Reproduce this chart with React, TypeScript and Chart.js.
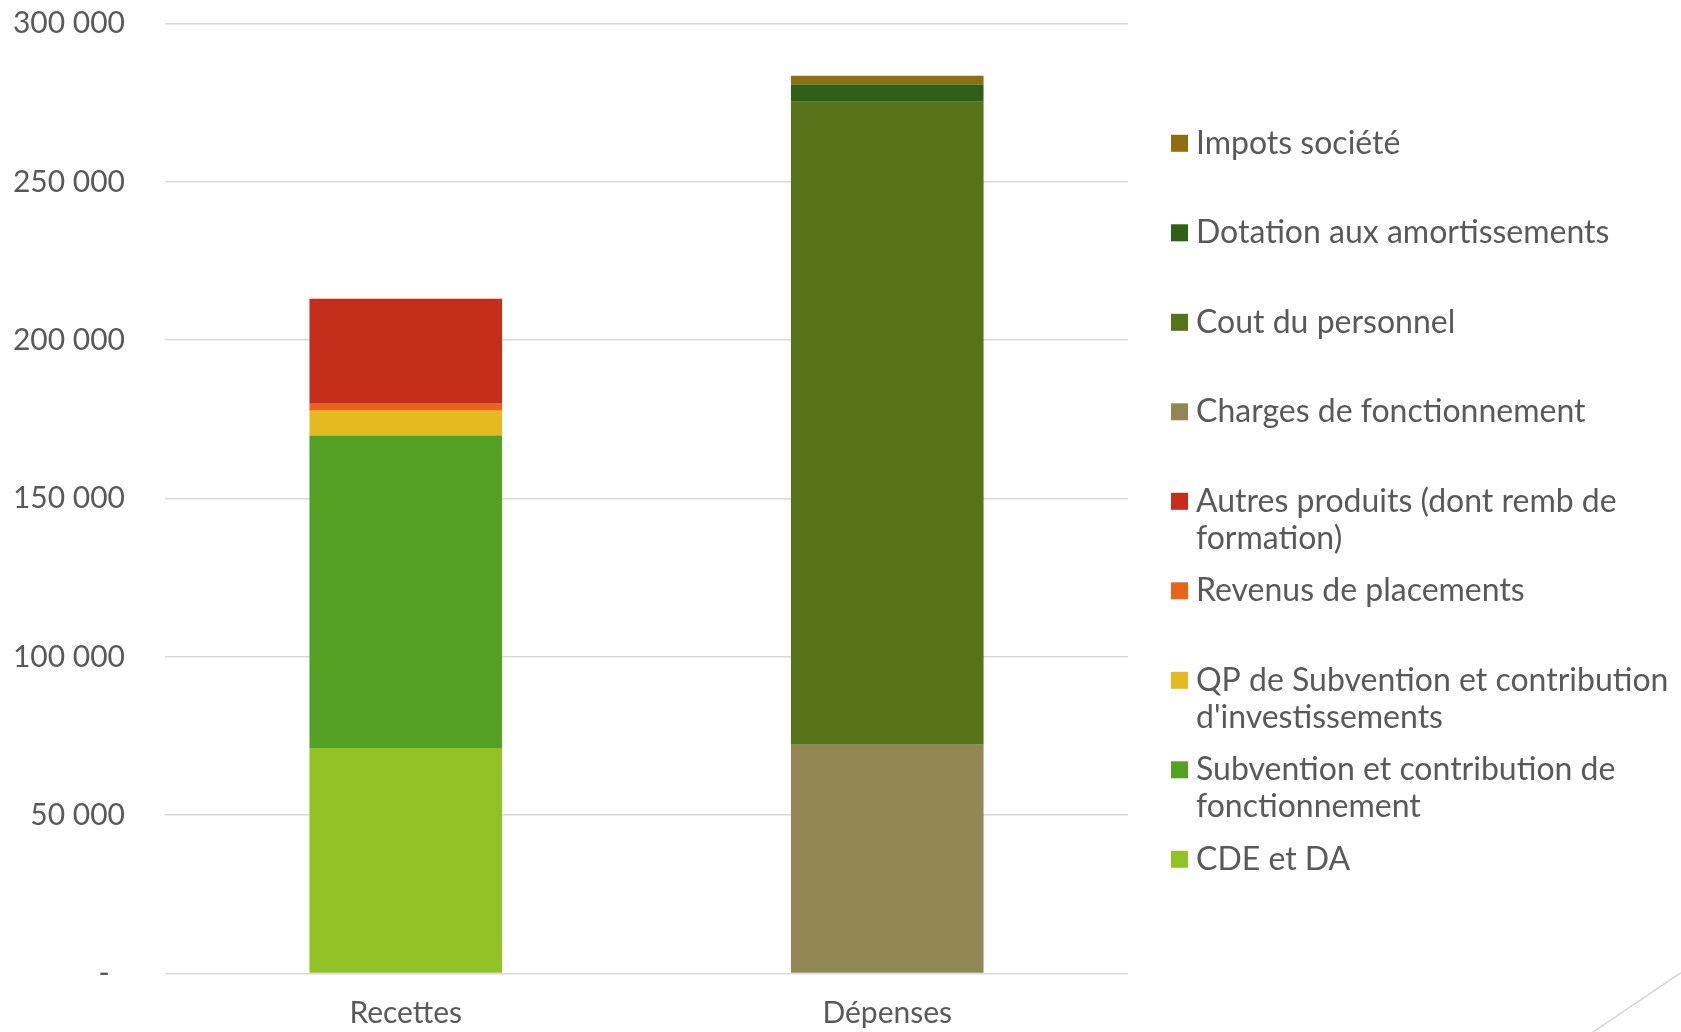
import React, { useEffect, useRef } from "react";
import { Chart, registerables } from "chart.js";

Chart.register(...registerables);

// ---- data ----
const categories = ["Recettes", "Dépenses"];

const seriesNames = [
  "CDE et DA",
  "Subvention et contribution de\nfonctionnement",
  "QP de Subvention et contribution\nd'investissements",
  "Revenus de placements",
  "Autres produits (dont remb de\nformation)",
  "Charges de fonctionnement",
  "Cout du personnel",
  "Dotation aux amortissements",
  "Impots société",
];

const cdeEtDa = [71200, null];
const subventionFonctionnement = [98700, null];
const qpSubventionInvest = [7800, null];
const revenusPlacements = [2200, null];
const autresProduits = [33200, null];
const chargesFonctionnement = [null, 72200];
const coutPersonnel = [null, 203100];
const dotationAmortissements = [null, 5400];
const impotsSociete = [null, 2800];

const seriesValues = [
  cdeEtDa,
  subventionFonctionnement,
  qpSubventionInvest,
  revenusPlacements,
  autresProduits,
  chargesFonctionnement,
  coutPersonnel,
  dotationAmortissements,
  impotsSociete,
];

const seriesColors = [
  "#91C226",
  "#54A022",
  "#E5BA1F",
  "#E7641A",
  "#C42E1A",
  "#918755",
  "#57731A",
  "#305F17",
  "#8E6E10",
];

const yMin = 0;
const yMax = 300000;
const yStep = 50000;

// ---- styles ----
const TEXT_COLOR = "#595959";
const FONT = "Lato";

const formatTick = (v: number) =>
  v === 0 ? "-  " : String(v).replace(/\B(?=(\d{3})+(?!\d))/g, " ");

const legendPlugin = {
  id: "customLegend",
  afterDraw(chart: any) {
    const ctx = chart.ctx;
    ctx.save();
    const ds = chart.data.datasets.slice().reverse();
    const startY = 143.3;
    const slot = 89.5;
    const markerX = 1171;
    const markerSize = 17;
    const textX = 1196;
    const lineH = 37;
    ctx.font = `32px ${FONT}`;
    ctx.textBaseline = "middle";
    ctx.textAlign = "left";
    ds.forEach((d: any, i: number) => {
      const y = startY + i * slot;
      ctx.fillStyle = d.backgroundColor;
      ctx.fillRect(markerX, y - markerSize / 2, markerSize, markerSize);
      ctx.fillStyle = TEXT_COLOR;
      String(d.label)
        .split("\n")
        .forEach((line: string, k: number) => {
          ctx.fillText(line, textX, y + k * lineH);
        });
    });
    // decorative slide line bottom-right
    ctx.strokeStyle = "#d3d3d3";
    ctx.lineWidth = 1.5;
    ctx.beginPath();
    ctx.moveTo(1593, 1032);
    ctx.lineTo(1681, 972.5);
    ctx.stroke();
    ctx.restore();
  },
};

export default function App() {
  const canvasRef = useRef<HTMLCanvasElement | null>(null);

  useEffect(() => {
    document.body.style.margin = "0";
    const canvas = canvasRef.current;
    if (!canvas) return;
    const chart = new Chart(canvas, {
      type: "bar",
      data: {
        labels: categories,
        datasets: seriesNames.map((name, i) => ({
          label: name,
          data: seriesValues[i],
          backgroundColor: seriesColors[i],
          borderWidth: 0,
          barPercentage: 0.4,
          categoryPercentage: 1,
        })),
      },
      options: {
        responsive: false,
        animation: false,
        devicePixelRatio: 1,
        layout: {
          padding: { top: 23.5, right: 553, bottom: 0, left: 0 },
        },
        plugins: {
          legend: { display: false },
          tooltip: { enabled: false },
        },
        scales: {
          x: {
            stacked: true,
            grid: { display: false, drawTicks: false },
            border: { display: false },
            ticks: {
              color: TEXT_COLOR,
              font: { family: FONT, size: 30 },
              padding: 22,
            },
            afterFit: (scale: any) => {
              scale.height = 58.5;
              scale.paddingLeft = 0;
              scale.paddingRight = 0;
            },
          },
          y: {
            stacked: true,
            min: yMin,
            max: yMax,
            grid: { color: "#d9d9d9", lineWidth: 1.5, drawTicks: false },
            border: { display: false },
            ticks: {
              stepSize: yStep,
              color: TEXT_COLOR,
              font: { family: FONT, size: 30 },
              padding: 40,
              callback: (v: any) => formatTick(Number(v)),
            },
            afterFit: (scale: any) => {
              scale.width = 165;
              scale.paddingTop = 0;
              scale.paddingBottom = 0;
            },
          },
        },
      },
      plugins: [legendPlugin],
    });
    return () => chart.destroy();
  }, []);

  return (
    <div style={{ position: "fixed", left: 0, top: 0, width: 1681, height: 1032, background: "#fff" }}>
      <canvas ref={canvasRef} width={1681} height={1032} style={{ display: "block" }} />
    </div>
  );
}
